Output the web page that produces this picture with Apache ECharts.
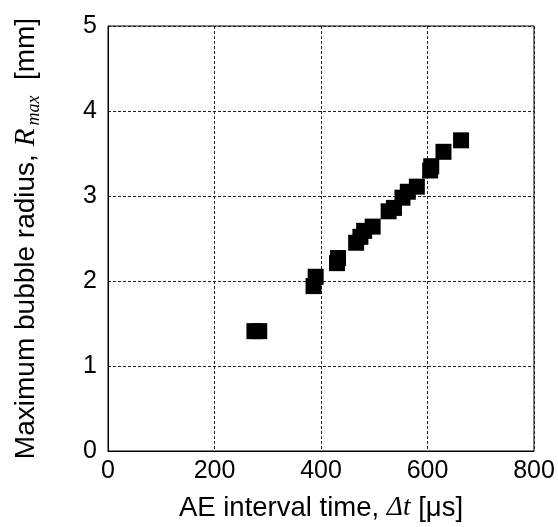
<!DOCTYPE html>
<html><head><meta charset="utf-8">
<script src="https://cdn.jsdelivr.net/npm/echarts@6/dist/echarts.min.js"></script>
<style>html,body{margin:0;padding:0;background:#fff}#c{width:558px;height:527px}</style>
</head><body><div id="c"></div>
<script>
const intervalTime = [275, 284, 386, 390, 430, 432, 466, 474, 481, 497, 527, 537, 553, 563, 580, 605, 607, 630, 663];
const bubbleRadius = [1.41, 1.41, 1.94, 2.05, 2.21, 2.27, 2.45, 2.52, 2.59, 2.64, 2.82, 2.86, 2.98, 3.05, 3.11, 3.30, 3.35, 3.52, 3.655];
const xTicks = [0, 200, 400, 600, 800];
const yTicks = [0, 1, 2, 3, 4, 5];

const data = intervalTime.map((x, i) => [x, bubbleRadius[i]]);
const sans = '"Liberation Sans", Arial, sans-serif';
const serif = '"Liberation Serif", "Times New Roman", serif';
const chart = echarts.init(document.getElementById('c'));
chart.setOption({
  animation: false,
  grid: {left: 108, right: 24, top: 26, bottom: 75, show: true, borderColor: '#000', borderWidth: 1, backgroundColor: 'transparent'},
  xAxis: {
    type: 'value', min: xTicks[0], max: xTicks[xTicks.length - 1], interval: 200,
    axisLine: {show: true, lineStyle: {color: '#000', width: 1}},
    axisTick: {show: false},
    splitLine: {show: true, lineStyle: {color: '#222', type: [3, 2], width: 1}},
    axisLabel: {color: '#000', fontSize: 25, fontFamily: sans, margin: 8},
    name: '{a|AE interval time, }{i|Δt}{a| [μs]}',
    nameLocation: 'middle', nameGap: 43,
    nameTextStyle: {
      rich: {
        a: {fontSize: 27.5, fontFamily: sans, color: '#000'},
        i: {fontSize: 27.5, fontFamily: serif, fontStyle: 'italic', color: '#000'}
      }
    }
  },
  yAxis: {
    type: 'value', min: yTicks[0], max: yTicks[yTicks.length - 1], interval: 1,
    axisLine: {show: true, lineStyle: {color: '#000', width: 1}},
    axisTick: {show: false},
    splitLine: {show: true, lineStyle: {color: '#222', type: [3, 2], width: 1}},
    axisLabel: {color: '#000', fontSize: 25, fontFamily: sans, margin: 11},
    name: '{a|Maximum bubble radius, }{i|R}{s|max}{a|  [mm]}',
    nameLocation: 'middle', nameGap: 66,
    nameTextStyle: {
      rich: {
        a: {fontSize: 28, fontFamily: sans, color: '#000', lineHeight: 32},
        i: {fontSize: 29, fontFamily: serif, fontStyle: 'italic', color: '#000', lineHeight: 32},
        s: {fontSize: 18, fontFamily: serif, fontStyle: 'italic', color: '#000', padding: [17, 0, 0, 3], lineHeight: 32}
      }
    }
  },
  series: [{
    type: 'scatter', data: data, symbol: 'rect', symbolSize: 16,
    itemStyle: {color: '#000', opacity: 1}
  }]
});
</script></body></html>
